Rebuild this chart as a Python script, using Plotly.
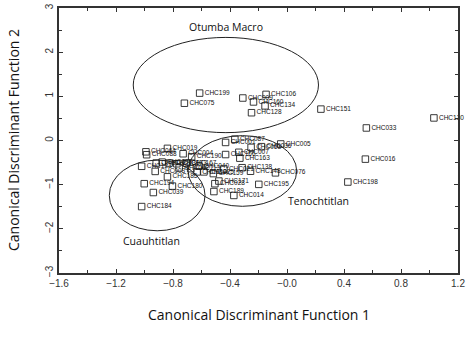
import plotly.graph_objects as go

# ---- data ----
names = ["CHC199", "CHC075", "CHC009", "CHC106", "CHC160", "CHC134", "CHC128",
         "CHC151", "CHC130", "CHC033", "CHC016", "CHC198",
         "CHC019", "CHC064", "CHC088", "CHC004", "CHC123", "CHC172", "CHC090",
         "CHC131", "CHC003", "CHC185", "CHC194", "CHC039", "CHC184", "CHC180",
         "CHC073", "CHC190", "CHC167", "CHC113", "CHC062", "CHC040",
         "CHC087", "CHC001", "CHC063", "CHC005", "CHC036", "CHC007", "CHC166",
         "CHC163", "CHC138", "CHC148", "CHC076", "CHC159", "CHC021", "CHC025",
         "CHC171", "CHC028", "CHC195", "CHC189", "CHC014", "CHC112"]
func1 = [-0.613, -0.720, -0.310, -0.147, -0.235, -0.154, -0.249,
         0.238, 1.031, 0.557, 0.550, 0.427,
         -0.839, -0.990, -0.985, -0.729, -1.020, -0.918, -0.876,
         -0.827, -0.925, -0.839, -1.002, -0.938, -1.020, -0.804,
         -0.773, -0.669, -0.706, -0.676, -0.757, -0.617,
         -0.366, -0.431, -0.252, -0.044, -0.179, -0.338, -0.431,
         -0.331, -0.315, -0.256, -0.081, -0.517, -0.443, -0.583,
         -0.478, -0.506, -0.198, -0.513, -0.373, -0.631]
func2 = [1.073, 0.844, 0.962, 1.044, 0.873, 0.784, 0.629,
         0.711, 0.511, 0.284, -0.422, -0.940,
         -0.178, -0.256, -0.322, -0.300, -0.584, -0.511, -0.489,
         -0.511, -0.700, -0.822, -0.978, -1.178, -1.496, -1.033,
         -0.527, -0.367, -0.511, -0.638, -0.622, -0.578,
         0.029, -0.044, -0.156, -0.078, -0.140, -0.267, -0.318,
         -0.400, -0.616, -0.696, -0.733, -0.749, -0.644, -0.711,
         -0.918, -0.978, -0.993, -1.156, -1.244, -0.711]

groups = ["Otumba Macro", "Tenochtitlan", "Cuauhtitlan"]
ell_cx = [-0.429, -0.313, -0.911]
ell_cy = [1.256, -0.690, -1.244]
ell_rx = [0.650, 0.381, 0.336]
ell_ry = [1.078, 0.800, 0.800]
label_x = [-0.425, 0.222, -0.950]
label_y = [2.56, -1.36, -2.27]

xtick_vals = [-1.6, -1.2, -0.8, -0.4, 0.0, 0.4, 0.8, 1.2]
xtick_text = ["\u22121.6", "\u22121.2", "\u22120.8", "\u22120.4", "\u22120.0", "0.4", "0.8", "1.2"]
ytick_vals = [-3, -2, -1, 0, 1, 2, 3]
ytick_text = ["\u22123", "\u22122", "\u22121", "0", "1", "2", "3"]

fig = go.Figure()

fig.add_trace(go.Scatter(
    x=func1, y=func2, mode="markers+text", text=names,
    textposition="middle right",
    textfont=dict(family="Liberation Sans, Arial", size=6.5, color="#111"),
    marker=dict(symbol="square-open", size=6.5, color="#222", line=dict(width=0.9)),
    cliponaxis=False, showlegend=False, hoverinfo="skip"))

for i in range(len(groups)):
    fig.add_shape(type="circle", xref="x", yref="y",
                  x0=ell_cx[i] - ell_rx[i], x1=ell_cx[i] + ell_rx[i],
                  y0=ell_cy[i] - ell_ry[i], y1=ell_cy[i] + ell_ry[i],
                  line=dict(color="#222", width=1))
    fig.add_annotation(x=label_x[i], y=label_y[i], text=groups[i], showarrow=False,
                       font=dict(family="Open Sans", size=10.5, color="#111"))

fig.add_annotation(xref="paper", yref="paper", x=0.5, y=-0.155,
                   text="Canonical Discriminant Function 1", showarrow=False,
                   yanchor="middle", font=dict(family="Open Sans", size=14, color="#111"))
fig.add_annotation(xref="paper", yref="paper", x=-0.114, y=0.5, textangle=-90,
                   text="Canonical Discriminant Function 2", showarrow=False,
                   xanchor="center", yanchor="middle",
                   font=dict(family="Open Sans", size=14, color="#111"))

axis_common = dict(showgrid=False, zeroline=False, showline=True, mirror="ticks",
                   linecolor="#333", linewidth=1.5, ticks="inside", ticklen=4,
                   tickcolor="#333", tickwidth=1,
                   tickfont=dict(family="Liberation Sans, Arial", size=10, color="#333"))

fig.update_xaxes(range=[-1.6, 1.2], tickmode="array", tickvals=xtick_vals, ticktext=xtick_text,
                 minor=dict(dtick=0.2, tick0=-1.6, ticks="inside", ticklen=3, tickcolor="#333"),
                 **axis_common)
fig.update_yaxes(range=[-3, 3], tickmode="array", tickvals=ytick_vals, ticktext=ytick_text,
                 tickangle=-90,
                 minor=dict(dtick=0.5, tick0=-3, ticks="inside", ticklen=3, tickcolor="#333"),
                 **axis_common)

fig.update_layout(width=469, height=348, margin=dict(l=59, r=11, t=3, b=75),
                  plot_bgcolor="white", paper_bgcolor="white")

fig.write_html("out.html")
